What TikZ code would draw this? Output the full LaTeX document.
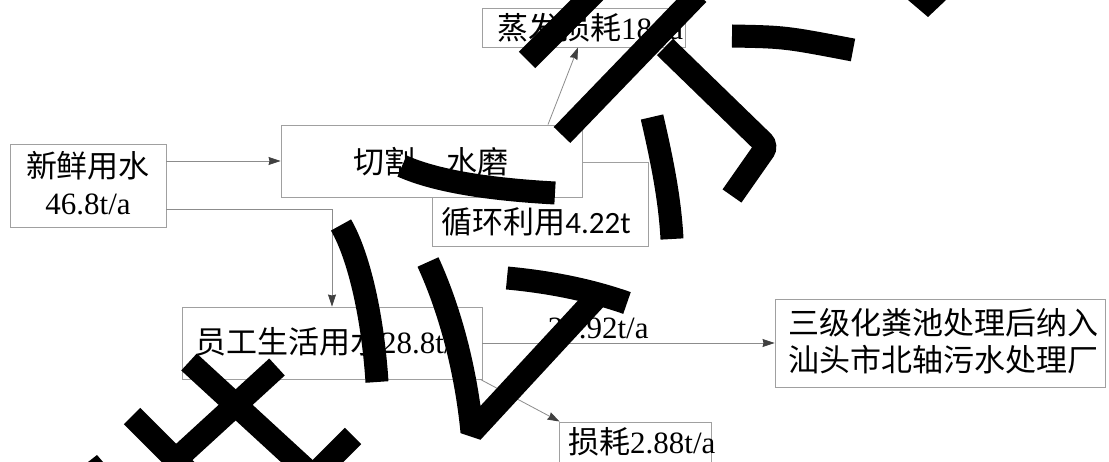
\documentclass[tikz,border=0pt]{standalone}
\usepackage{fontspec}
\setmainfont{Liberation Serif}
\newfontfamily\cjfont{Noto Sans CJK SC}
\newfontfamily\calfont{Carlito}
\usetikzlibrary{arrows.meta,calc}
\definecolor{boxc}{HTML}{A0A0A0}
\definecolor{linec}{HTML}{8C8C8C}
\definecolor{tipc}{HTML}{404040}
\begin{document}
\begin{tikzpicture}[x=1pt,y=-1pt,
  box/.style={draw=boxc, line width=0.9pt, fill=white, inner sep=0pt},
  txt/.style={inner sep=0pt, font=\fontsize{31}{37}\selectfont},
  conn/.style={draw=linec, line width=0.8pt, -{Stealth[length=12pt,width=8pt,inset=1pt,color=tipc]}},
  wm/.style={line width=23pt, black}]
\useasboundingbox (0,0) rectangle (1109,462);
\fill[white] (0,0) rectangle (1109,462);

% boxes
\node[box, minimum width=203pt, minimum height=39pt] (zf) at (583.5,27.5) {};
\node[txt, anchor=west] (zft) at (497,28) {{\cjfont 蒸发损耗}18t/a};
\node[box, minimum width=216pt, minimum height=84pt] (xh) at (540,204) {};
\node[txt] (xht) at (536,222) {{\cjfont 循环利用}{\calfont 4.22t}};
\node[box, minimum width=301pt, minimum height=72pt] (qg) at (431.5,161) {};
\node[txt] (qgt) at (431,162) {\cjfont 切割、水磨};
\node[box, minimum width=156pt, minimum height=83pt] (xin) at (88,185.5) {};
\node[txt, align=center] (xint) at (88,183.5) {{\cjfont 新鲜用水}\\46.8t/a};
\node[box, minimum width=300pt, minimum height=72pt] (yg) at (332,343) {};
\node[txt, anchor=west] (ygt) at (195,342) {{\cjfont 员工生活用水}28.8t/a};
\node[box, minimum width=330pt, minimum height=88pt] (sj) at (940,343) {};
\node[txt, align=center] (sjt) at (943,341) {{\cjfont 三级化粪池处理后纳入}\\{\cjfont 汕头市北轴污水处理厂}};
\node[box, minimum width=152pt, minimum height=53pt] (sh) at (635,448.5) {};
\node[txt, anchor=west] (sht) at (568,442) {{\cjfont 损耗}2.88t/a};

% connectors
\draw[conn] (xin.east |- qg.west) -- (qg.west);
\draw[conn] ([yshift=-23.5pt]xin.east) -| (yg.north);
\draw[conn] ([xshift=116.5pt]qg.north) -- ([xshift=-5.5pt]zf.south);
\draw[conn] (yg.east) -- node[txt, pos=0.57, anchor=base east, yshift=4pt] (lbl) {25.92t/a} (sj.west);
\draw[conn] ([xshift=-2pt]yg.south east) -- ([xshift=1pt]sh.north west);

% overlaid strokes
\begin{scope}[wm]
\draw (527,60) -- (595,-8);
\draw (562,135) -- (698,-6);
\draw[rounded corners=6pt] (665,47) -- (767,146) -- (732,196);
\draw (732,36) .. controls (785,37) .. (853,50);
\fill (908,0) -- (946,0) -- (928,17) -- cycle;
\draw (652,117) .. controls (662,160) and (670,200) .. (672,239);
\draw (402,166) .. controls (440,183) and (500,190) .. (555,193);
\draw (341,225) .. controls (360,258) and (373,320) .. (377,382);
\draw[line join=bevel] (428,262) .. controls (450,310) and (466,370) .. (472,432) -- (596,298);
\draw (507,278) .. controls (550,282) and (590,290) .. (627,303);
\draw (189,362) -- (312,475);
\draw (277,367) -- (170,465);
\draw (132,416) -- (190,474);
\draw (353,436) -- (318,471);
\fill (88,462) -- (97,455) -- (103,462) -- cycle;
\end{scope}
\end{tikzpicture}
\end{document}
